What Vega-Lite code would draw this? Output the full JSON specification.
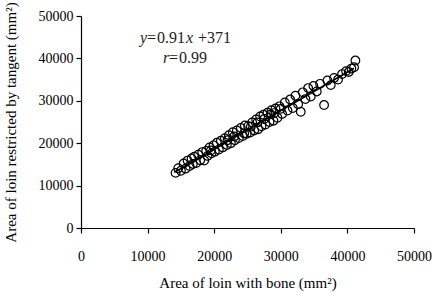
{
  "$schema": "https://vega.github.io/schema/vega-lite/v6.json",
  "width": 333,
  "height": 212,
  "autosize": "none",
  "padding": {"left": 81, "top": 16, "right": 21, "bottom": 70},
  "background": "white",
  "config": {
    "view": {"stroke": null},
    "font": "Liberation Serif",
    "text": {"font": "Liberation Serif", "fontSize": 16, "align": "left", "baseline": "middle", "color": "#222"},
    "axis": {
      "grid": false,
      "domainColor": "black",
      "tickColor": "black",
      "domainWidth": 1.2,
      "tickWidth": 1.2,
      "tickSize": 5,
      "labelColor": "black",
      "titleColor": "black",
      "labelFont": "Liberation Serif",
      "titleFont": "Liberation Serif",
      "labelFontSize": 14,
      "titleFontSize": 15,
      "titleFontWeight": "normal",
      "labelFlush": false,
      "labelOverlap": false
    }
  },
  "datasets": {
    "pts": [
      {"a": 14200, "b": 13000}, {"a": 14600, "b": 14100}, {"a": 15000, "b": 13500}, {"a": 15400, "b": 15200},
      {"a": 15700, "b": 14000}, {"a": 16000, "b": 15900}, {"a": 16300, "b": 14600}, {"a": 16600, "b": 16400},
      {"a": 16800, "b": 15100}, {"a": 17000, "b": 16800}, {"a": 17300, "b": 15300}, {"a": 17600, "b": 17300},
      {"a": 17900, "b": 16000}, {"a": 18200, "b": 17900}, {"a": 18500, "b": 15900}, {"a": 18800, "b": 18200},
      {"a": 19000, "b": 17000}, {"a": 19300, "b": 19000}, {"a": 19600, "b": 17600}, {"a": 19900, "b": 19500},
      {"a": 20100, "b": 18000}, {"a": 20400, "b": 20100}, {"a": 20700, "b": 18500}, {"a": 21000, "b": 20600},
      {"a": 21300, "b": 19000}, {"a": 21600, "b": 21200}, {"a": 21900, "b": 19600}, {"a": 22200, "b": 21900},
      {"a": 22500, "b": 20000}, {"a": 22800, "b": 22600}, {"a": 23100, "b": 20700}, {"a": 23400, "b": 23000},
      {"a": 23700, "b": 21200}, {"a": 24000, "b": 23600}, {"a": 24300, "b": 21700}, {"a": 24600, "b": 24200},
      {"a": 24900, "b": 22200}, {"a": 25100, "b": 24000}, {"a": 25400, "b": 22500}, {"a": 25700, "b": 24900},
      {"a": 26000, "b": 23000}, {"a": 26300, "b": 25600}, {"a": 26600, "b": 23300}, {"a": 26900, "b": 26300},
      {"a": 27100, "b": 24000}, {"a": 27400, "b": 26700}, {"a": 27700, "b": 24400}, {"a": 28000, "b": 27200},
      {"a": 28300, "b": 25000}, {"a": 28600, "b": 27800}, {"a": 28900, "b": 25300}, {"a": 29200, "b": 28200},
      {"a": 29500, "b": 26000}, {"a": 29800, "b": 28700}, {"a": 30200, "b": 26900}, {"a": 30600, "b": 29600},
      {"a": 31000, "b": 27700}, {"a": 31400, "b": 30300}, {"a": 31800, "b": 28300}, {"a": 32200, "b": 31200},
      {"a": 32600, "b": 29200}, {"a": 33000, "b": 27400}, {"a": 33300, "b": 32000}, {"a": 33700, "b": 30400},
      {"a": 34100, "b": 33000}, {"a": 34500, "b": 31000}, {"a": 34900, "b": 33500}, {"a": 35400, "b": 32200},
      {"a": 35900, "b": 34000}, {"a": 36500, "b": 29000}, {"a": 37000, "b": 34800}, {"a": 37500, "b": 33700},
      {"a": 38000, "b": 35400}, {"a": 38600, "b": 35000}, {"a": 39200, "b": 36300}, {"a": 39800, "b": 37000},
      {"a": 40200, "b": 36800}, {"a": 40600, "b": 37600}, {"a": 41000, "b": 37900}, {"a": 41200, "b": 39500},
      {"a": 19500, "b": 18300}, {"a": 22000, "b": 20700}, {"a": 24500, "b": 22300}, {"a": 26500, "b": 24900},
      {"a": 27500, "b": 25700}, {"a": 28500, "b": 26800}, {"a": 29000, "b": 27100}, {"a": 23000, "b": 21600},
      {"a": 25500, "b": 23900}, {"a": 30000, "b": 28100}
    ],
    "fit": [{"a": 14000, "b": 13111}, {"a": 41000, "b": 37681}],
    "eq": [
      {"t": "y", "px": 8859, "py": 44811, "it": "italic"},
      {"t": "=", "px": 9910, "py": 44811, "it": "normal"},
      {"t": "0.91", "px": 11411, "py": 44811, "it": "normal"},
      {"t": "x", "px": 15766, "py": 44811, "it": "italic"},
      {"t": "+", "px": 17568, "py": 44811, "it": "normal"},
      {"t": "371", "px": 18919, "py": 44811, "it": "normal"},
      {"t": "r", "px": 12312, "py": 40094, "it": "italic"},
      {"t": "=", "px": 13213, "py": 40094, "it": "normal"},
      {"t": "0.99", "px": 14715, "py": 40094, "it": "normal"}
    ]
  },
  "layer": [
    {
      "data": {"name": "pts"},
      "mark": {"type": "point", "shape": "circle", "size": 75, "filled": false, "stroke": "black", "strokeWidth": 1.2, "opacity": 1},
      "encoding": {
        "x": {"field": "a", "type": "quantitative", "scale": {"domain": [0, 50000]},
          "axis": {"values": [0, 10000, 20000, 30000, 40000, 50000], "format": "d", "labelPadding": 16, "title": "Area of loin with bone (mm²)", "titlePadding": 12}},
        "y": {"field": "b", "type": "quantitative", "scale": {"domain": [0, 50000]},
          "axis": {"values": [0, 10000, 20000, 30000, 40000, 50000], "format": "d", "labelPadding": 3, "title": "Area of loin restricted by tangent (mm²)", "titlePadding": 20}}
      }
    },
    {
      "data": {"name": "fit"},
      "mark": {"type": "line", "color": "black", "strokeWidth": 1.6},
      "encoding": {
        "x": {"field": "a", "type": "quantitative"},
        "y": {"field": "b", "type": "quantitative"}
      }
    },
    {
      "data": {"name": "eq"},
      "transform": [{"filter": "datum.it === 'normal'"}],
      "mark": {"type": "text"},
      "encoding": {
        "x": {"field": "px", "type": "quantitative"},
        "y": {"field": "py", "type": "quantitative"},
        "text": {"field": "t"}
      }
    },
    {
      "data": {"name": "eq"},
      "transform": [{"filter": "datum.it === 'italic'"}],
      "mark": {"type": "text", "fontStyle": "italic"},
      "encoding": {
        "x": {"field": "px", "type": "quantitative"},
        "y": {"field": "py", "type": "quantitative"},
        "text": {"field": "t"}
      }
    }
  ]
}
